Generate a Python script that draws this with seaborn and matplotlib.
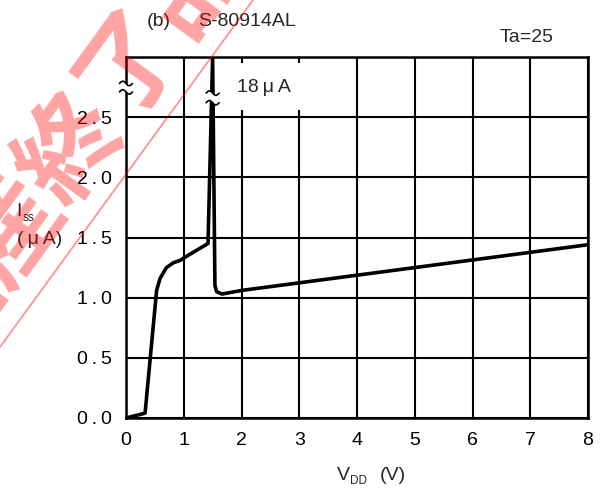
import numpy as np
import pandas as pd
import matplotlib
matplotlib.use("Agg")
import matplotlib.pyplot as plt
import seaborn as sns
from matplotlib.patches import Rectangle

# ---- data ----
vdd = [0.00, 0.33, 0.53, 0.59, 0.70, 0.82, 0.94, 1.00, 1.42, 1.50, 1.54, 1.57, 1.66, 2.00, 8.00]
iss = [0.00, 0.04, 1.06, 1.16, 1.25, 1.29, 1.31, 1.33, 1.45, 3.00, 1.10, 1.05, 1.03, 1.06, 1.44]
x_ticks = [0, 1, 2, 3, 4, 5, 6, 7, 8]
y_ticks = [0.0, 0.5, 1.0, 1.5, 2.0, 2.5]
y_tick_labels = ["0\u2009.\u20090", "0\u2009.\u20095", "1\u2009.\u20090", "1\u2009.\u20095", "2\u2009.\u20090", "2\u2009.\u20095"]
title_part = "(b)"
title_name = "S-80914AL"
cond_label = "Ta=25"
peak_label = "18\u2009\u03bc\u2009A"

sns.set_style("white")
plt.rcParams['font.family'] = ['Liberation Sans', 'DejaVu Sans']

FS = 14
W, H = 605, 497
fig = plt.figure(figsize=(W / 100, H / 100), dpi=100)
ax = fig.add_axes([126 / W, 1 - 418 / H, (588 - 126) / W, (418 - 57) / H])

df = pd.DataFrame({"VDD": vdd, "ISS": iss})
sns.lineplot(data=df, x="VDD", y="ISS", sort=False, estimator=None, color="black",
             linewidth=2.6, ax=ax, zorder=4)

ax.set_xlim(0, 8)
ax.set_ylim(0, 3.0)
ax.set_xticks(x_ticks)
ax.set_xticklabels([str(t) for t in x_ticks])
ax.set_yticks(y_ticks + [3.0])
ax.set_yticklabels(y_tick_labels + [""])
ax.tick_params(axis="both", length=0, labelsize=FS, colors="black")
ax.tick_params(axis="y", pad=10)
ax.tick_params(axis="x", pad=10)
ax.grid(True, color="black", linewidth=1.5)
for s in ax.spines.values():
    s.set_color("black")
    s.set_linewidth(1.8)
ax.set_xlabel("")
ax.set_ylabel("")

# white box with the peak value label
ax.add_patch(Rectangle((1.93, 2.56), 1.12, 0.39, facecolor="white", edgecolor="none", zorder=3))
ax.text(1.92, 2.75, peak_label, fontsize=FS, va="center", ha="left", zorder=6)

# break marks
px_x = 1 / 57.75
px_y = 1 / 120.4

def break_mark(xc, y_top, y_bot):
    t = np.linspace(-1, 1, 40)
    dx = t * 6.5 * px_x
    dy = -np.sin(t * np.pi) * 2.2 * px_y
    ax.fill_between(xc + dx, y_bot + dy, y_top + dy, color="white", zorder=7, clip_on=False, linewidth=0)
    ax.plot(xc + dx, y_top + dy, color="black", lw=1.2, zorder=8, clip_on=False)
    ax.plot(xc + dx, y_bot + dy, color="black", lw=1.2, zorder=8, clip_on=False)

break_mark(0.0, 2.78, 2.71)
break_mark(1.50, 2.70, 2.62)

# texts
fig.text(147 / W, 1 - 21 / H, title_part, fontsize=FS, va="center", ha="left")
fig.text(198 / W, 1 - 21 / H, title_name, fontsize=FS, va="center", ha="left")
fig.text(527 / W, 1 - 37 / H, cond_label, fontsize=FS, va="center", ha="center")
# y label
fig.text(16 / W, 1 - 211 / H, "I", fontsize=FS, va="center", ha="left")
fig.text(23 / W, 1 - 218 / H, "ss", fontsize=8.5, va="center", ha="left")
fig.text(40 / W, 1 - 240 / H, "(\u2009\u03bc\u2009A)", fontsize=FS, va="center", ha="center")
# x label
fig.text(337 / W, 1 - 475 / H, "V", fontsize=FS, va="center", ha="left")
fig.text(350 / W, 1 - 481 / H, "DD", fontsize=8.5, va="center", ha="left")
fig.text(393 / W, 1 - 475 / H, "(V)", fontsize=FS, va="center", ha="center")

# watermark
fig.text(72 / W, 1 - 148 / H, "\u751f\u7523\u7d42\u4e86\u54c1", fontsize=74, fontweight="bold",
         family=["Noto Sans CJK JP"], color="red", alpha=0.36, rotation=54,
         ha="center", va="center", rotation_mode="anchor", zorder=20)
fig.add_artist(plt.Line2D([0, 253 / W], [1 - 347 / H, 1.0], color="red", alpha=0.45, lw=1.2,
                          transform=fig.transFigure, zorder=20))

fig.savefig("out.png", dpi=100)
